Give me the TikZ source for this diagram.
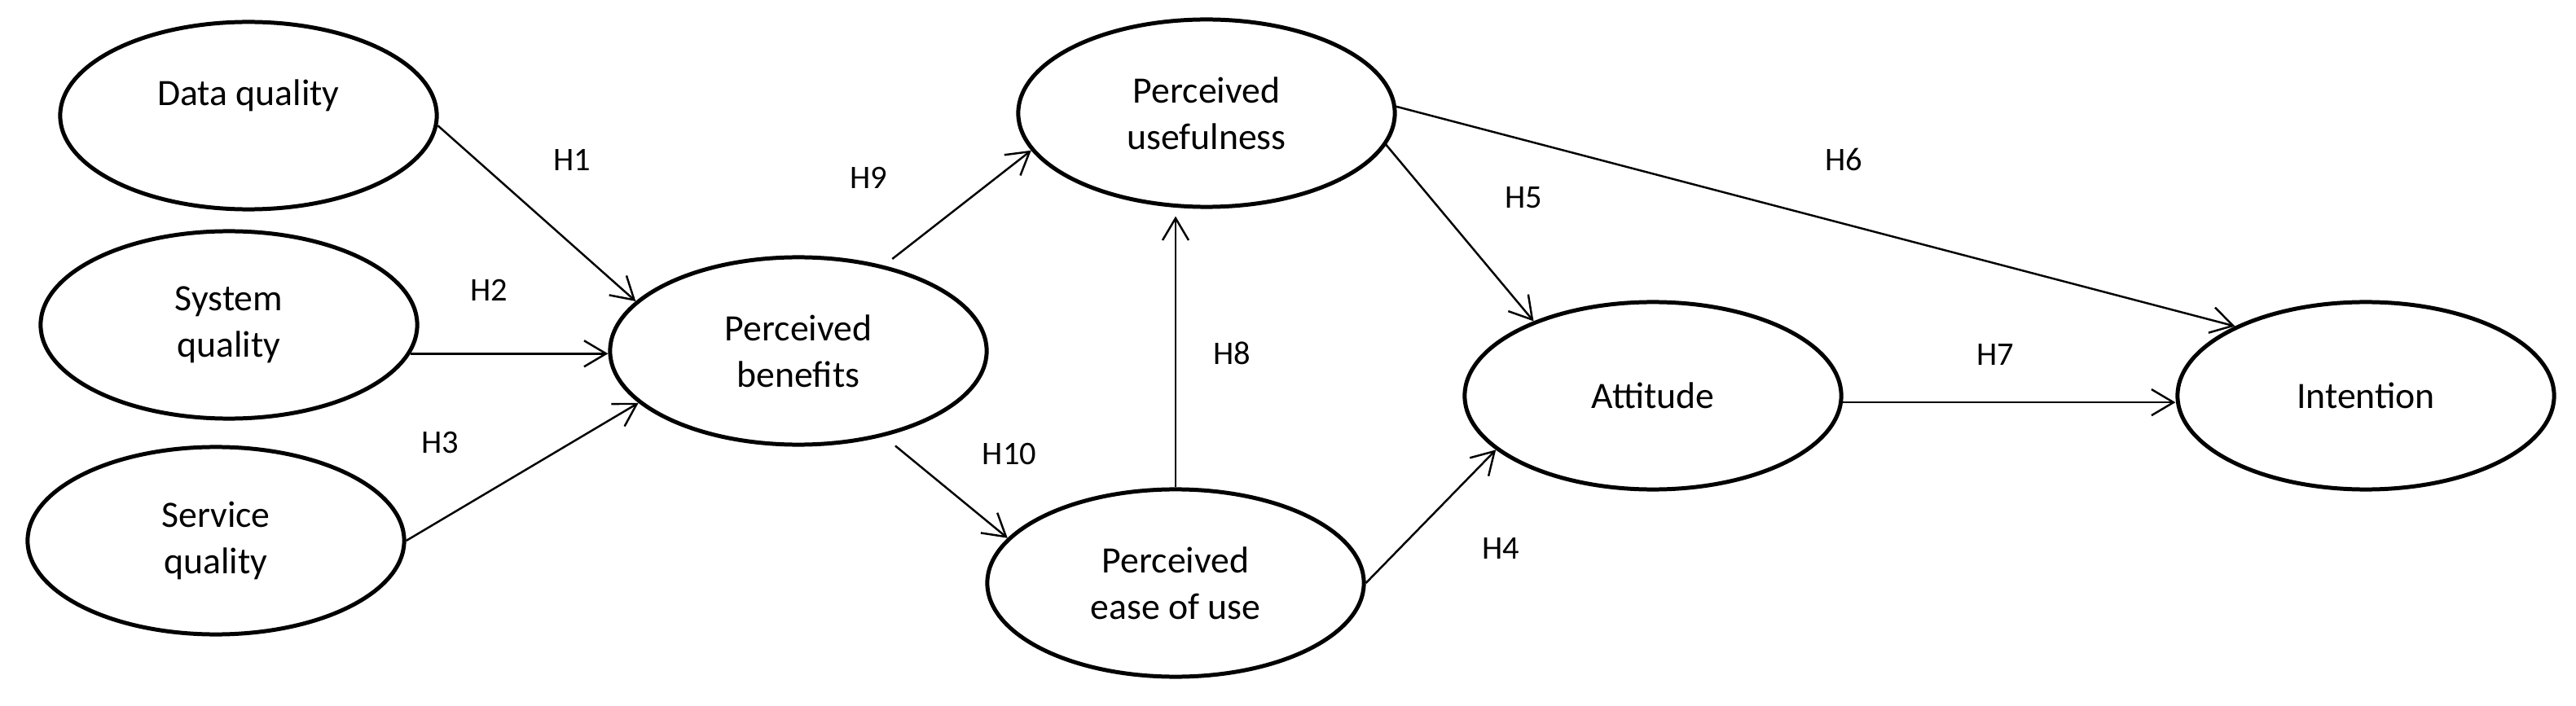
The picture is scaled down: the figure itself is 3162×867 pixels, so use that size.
\documentclass[tikz,border=0pt]{standalone}
\usepackage{fontspec}
\setmainfont{Carlito}
\usetikzlibrary{arrows.meta,shapes.geometric}
\begin{document}
\begin{tikzpicture}[x=0.01cm,y=-0.01cm,
  latent/.style={ellipse, draw, line width=1.42pt, minimum width=4.62cm, minimum height=2.30cm,
    inner sep=0pt, align=center, font=\fontsize{13}{16.2}\selectfont},
  hyp/.style={-{Straight Barb[length=0.27cm,width=0.32cm]}, line width=0.7pt},
  hlab/.style={font=\fontsize{11.5}{13}\selectfont, inner sep=0pt}]
\useasboundingbox (0,0) rectangle (3162,867);
\fill[white] (0,0) rectangle (3162,867);
% constructs
\node[latent] (dq)   at (305,142)  {Data quality\\\mbox{}};
\node[latent] (sysq) at (281,399)  {System\\quality};
\node[latent] (serq) at (265,664)  {Service\\quality};
\node[latent] (pb)   at (980,431)  {Perceived\\benefits};
\node[latent] (pu)   at (1481,139) {Perceived\\usefulness};
\node[latent] (peou) at (1443,716) {Perceived\\ease of use};
\node[latent] (att)  at (2029,486) {Attitude};
\node[latent] (int)  at (2904,486) {Intention};
% hypotheses
\draw[hyp] (dq.-3.5) -- (pb.163);
\draw[hyp] (sysq.-9) -- (sysq.-9 -| pb.west);
\draw[hyp] (serq.east) -- (pb.198);
\draw[hyp, shorten <=0.13cm] (pb.45) -- (pu.192);
\draw[hyp, shorten <=0.18cm] (pb.-45) -- (peou.165.5);
\draw[hyp, shorten >=0.09cm] (peou.north) -- (peou.north |- pu.south);
\draw[hyp] (pu.-10) -- (att.148.6);
\draw[hyp] (pu.2.6) -- (int.152.4);
\draw[hyp] (peou.east) -- (att.199);
\draw[hyp] (att.-2) -- (att.-2 -| int.west);
% labels
\node[hlab] (h1)  at (702,196)  {H1};
\node[hlab] (h2)  at (600,356)  {H2};
\node[hlab] (h3)  at (540,544)  {H3};
\node[hlab] (h9)  at (1066,218) {H9};
\node[hlab] (h10) at (1239,558) {H10};
\node[hlab] (h8)  at (1512,434) {H8};
\node[hlab] (h5)  at (1870,243) {H5};
\node[hlab] (h6)  at (2263,196) {H6};
\node[hlab] (h4)  at (1842,674) {H4};
\node[hlab] (h7)  at (2449,436) {H7};
\end{tikzpicture}
\end{document}
